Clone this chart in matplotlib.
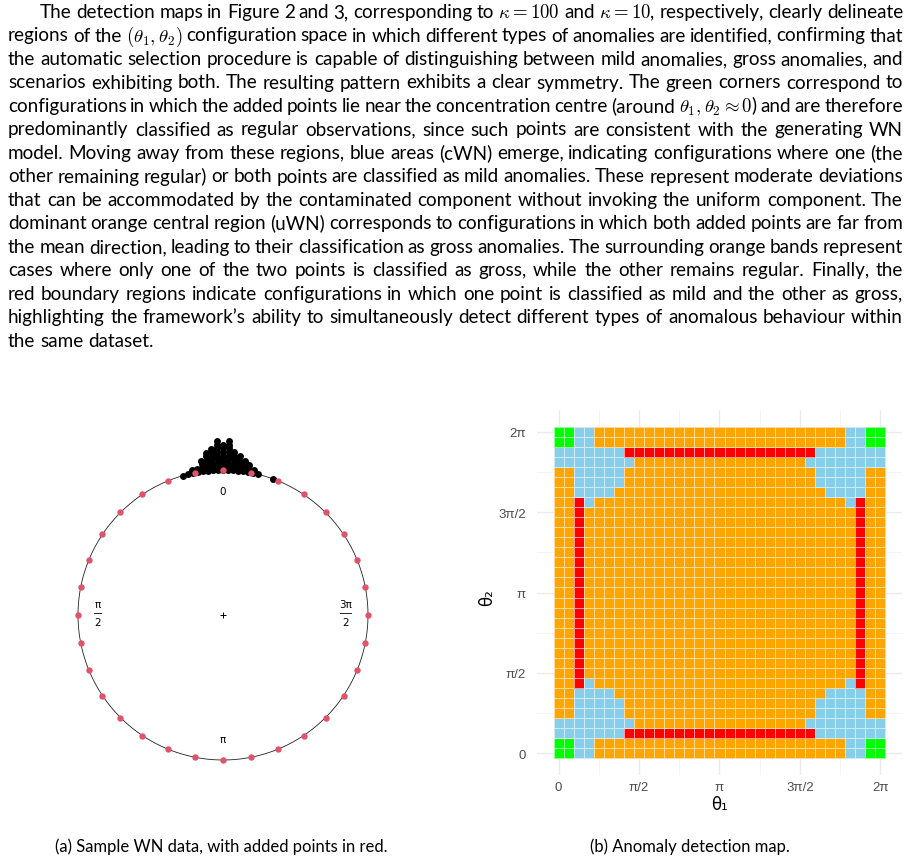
import re
import numpy as np
import matplotlib
matplotlib.use("Agg")
import matplotlib.pyplot as plt
from matplotlib.colors import ListedColormap

plt.rcParams["font.family"] = ["Lato", "DejaVu Sans"]
plt.rcParams["mathtext.fontset"] = "cm"

W, H = 912, 862

paragraph = [
    r"The detection maps in Figure 2 and 3, corresponding to $\kappa = 100$ and $\kappa = 10$, respectively, clearly delineate",
    r"regions of the $(\theta_1, \theta_2)$ configuration space in which different types of anomalies are identified, confirming that",
    r"the automatic selection procedure is capable of distinguishing between mild anomalies, gross anomalies, and",
    r"scenarios exhibiting both.  The resulting pattern exhibits a clear symmetry.  The green corners correspond to",
    r"configurations in which the added points lie near the concentration centre (around $\theta_1, \theta_2 \approx 0$) and are therefore",
    r"predominantly classified as regular observations, since such points are consistent with the generating WN",
    r"model. Moving away from these regions, blue areas (cWN) emerge, indicating configurations where one (the",
    r"other remaining regular) or both points are classified as mild anomalies. These represent moderate deviations",
    r"that can be accommodated by the contaminated component without invoking the uniform component. The",
    r"dominant orange central region (uWN) corresponds to configurations in which both added points are far from",
    r"the mean direction, leading to their classification as gross anomalies. The surrounding orange bands represent",
    r"cases where only one of the two points is classified as gross, while the other remains regular. Finally, the",
    r"red boundary regions indicate configurations in which one point is classified as mild and the other as gross,",
    r"highlighting the framework’s ability to simultaneously detect different types of anomalous behaviour within",
    r"the same dataset.",
]
caption_a = "(a) Sample WN data, with added points in red."
caption_b = "(b) Anomaly detection map."

# (a) stacked WN sample: bin offset (2 degree bins, + = anticlockwise from 0) and count
stack_bin = [-10, -7, -6, -5, -4, -3, -2, -1, 0, 1, 2, 3, 4, 5, 6, 7, 8]
stack_count = [1, 1, 2, 3, 4, 5, 6, 9, 8, 9, 7, 6, 4, 2, 2, 1, 1]
bin_width = 2 * np.pi / 180
stack_sep = 0.025

# added points: theta grid seq(0, 2pi, length = 33) without the repeated 2pi
added_theta = np.linspace(0, 2 * np.pi, 33)[:-1]

# (b) detection map, rows from theta2 = 2pi (top) down to 0, run-length coded
map_rows = [
    [("G", 2), ("B", 2), ("O", 25), ("B", 2), ("G", 2)],
    [("G", 2), ("B", 2), ("O", 25), ("B", 2), ("G", 2)],
    [("B", 7), ("R", 19), ("B", 7)],
    [("B", 8), ("O", 17), ("B", 8)],
    [("O", 2), ("B", 5), ("O", 19), ("B", 5), ("O", 2)],
    [("O", 2), ("B", 5), ("O", 19), ("B", 5), ("O", 2)],
    [("O", 2), ("B", 4), ("O", 21), ("B", 4), ("O", 2)],
    [("O", 2), ("R", 1), ("B", 1), ("O", 25), ("B", 1), ("R", 1), ("O", 2)],
    [("O", 2), ("R", 1), ("O", 27), ("R", 1), ("O", 2)],
    [("O", 2), ("R", 1), ("O", 27), ("R", 1), ("O", 2)],
    [("O", 2), ("R", 1), ("O", 27), ("R", 1), ("O", 2)],
    [("O", 2), ("R", 1), ("O", 27), ("R", 1), ("O", 2)],
    [("O", 2), ("R", 1), ("O", 27), ("R", 1), ("O", 2)],
    [("O", 2), ("R", 1), ("O", 27), ("R", 1), ("O", 2)],
    [("O", 2), ("R", 1), ("O", 27), ("R", 1), ("O", 2)],
    [("O", 2), ("R", 1), ("O", 27), ("R", 1), ("O", 2)],
    [("O", 2), ("R", 1), ("O", 27), ("R", 1), ("O", 2)],
    [("O", 2), ("R", 1), ("O", 27), ("R", 1), ("O", 2)],
    [("O", 2), ("R", 1), ("O", 27), ("R", 1), ("O", 2)],
    [("O", 2), ("R", 1), ("O", 27), ("R", 1), ("O", 2)],
    [("O", 2), ("R", 1), ("O", 27), ("R", 1), ("O", 2)],
    [("O", 2), ("R", 1), ("O", 27), ("R", 1), ("O", 2)],
    [("O", 2), ("R", 1), ("O", 27), ("R", 1), ("O", 2)],
    [("O", 2), ("R", 1), ("O", 27), ("R", 1), ("O", 2)],
    [("O", 2), ("R", 1), ("O", 27), ("R", 1), ("O", 2)],
    [("O", 2), ("R", 1), ("B", 1), ("O", 25), ("B", 1), ("R", 1), ("O", 2)],
    [("O", 2), ("B", 4), ("O", 21), ("B", 4), ("O", 2)],
    [("O", 2), ("B", 5), ("O", 19), ("B", 5), ("O", 2)],
    [("O", 2), ("B", 5), ("O", 19), ("B", 5), ("O", 2)],
    [("B", 8), ("O", 17), ("B", 8)],
    [("B", 7), ("R", 19), ("B", 7)],
    [("G", 2), ("B", 2), ("O", 25), ("B", 2), ("G", 2)],
    [("G", 2), ("B", 2), ("O", 25), ("B", 2), ("G", 2)],
]
map_codes = ["G", "B", "O", "R"]
map_colors = ["#00FF00", "#87CEEB", "#FFA500", "#FF0000"]
grid_theta = np.linspace(0, 2 * np.pi, 33)
tick_pos = [0, np.pi / 2, np.pi, 3 * np.pi / 2, 2 * np.pi]
tick_lab = ["0", "π/2", "π", "3π/2", "2π"]
minor_pos = [np.pi / 4, 3 * np.pi / 4, 5 * np.pi / 4, 7 * np.pi / 4]


fig = plt.figure(figsize=(W / 100, H / 100), dpi=100)
renderer = fig.canvas.get_renderer()


def width(s, size):
    t = fig.text(0, 0, s, fontsize=size)
    w = t.get_window_extent(renderer).width
    t.remove()
    return w


# --- justified paragraph ---
tok = re.compile(r"(?:[^\s$]|\$[^$]*\$)+")
words = [tok.findall(line) for line in paragraph]
left, right, indent = 8, 903, 40
fs = 13.0
fs *= 161 / width("the same dataset.", fs)
sp = width("a a", fs) - width("aa", fs)
ratio = 1.0
for i, ws in enumerate(words[:-1]):
    x0 = indent if i == 0 else left
    nat = sum(width(w, fs) for w in ws) + sp * 0.8 * (len(ws) - 1)
    ratio = min(ratio, (right - x0) / nat)
fs *= ratio
sp = width("a a", fs) - width("aa", fs)

for i, ws in enumerate(words):
    y = 18 + 23.5 * i
    x0 = indent if i == 0 else left
    ww = [width(w, fs) for w in ws]
    gap = (right - x0 - sum(ww)) / (len(ws) - 1) if i < len(words) - 1 else sp
    x = x0
    for w, wd in zip(ws, ww):
        fig.text(x / W, 1 - y / H, w, fontsize=fs, va="baseline", color="black")
        x += wd + gap

# --- captions ---
cfs = 10.0
cfs *= 333 / width(caption_a, cfs)
fig.text(221 / W, 1 - 847 / H, caption_a, fontsize=cfs, ha="center", va="center")
fig.text(690 / W, 1 - 847 / H, caption_b, fontsize=cfs, ha="center", va="center")

# --- (a) circular plot ---
R = 145.0
axc = fig.add_axes([53 / W, 1 - 785 / H, 340 / W, 360 / H])
axc.set_xlim(-170 / R, 170 / R)
axc.set_ylim(-169 / R, 191 / R)
axc.axis("off")
t = np.linspace(0, 2 * np.pi, 500)
axc.plot(np.cos(t), np.sin(t), color="#222222", lw=0.6)
for k, c in zip(stack_bin, stack_count):
    a = k * bin_width
    r = 1 + stack_sep * np.arange(c)
    axc.plot(-r * np.sin(a), r * np.cos(a), "o", color="black", ms=5.0, mew=0, zorder=2)
axc.plot(-np.sin(added_theta), np.cos(added_theta), "o", color="#DF536B",
         ms=4.6, mew=0, zorder=3)
axc.plot(0, 0, "+", color="black", ms=5, mew=0.7)

lab_font = ["DejaVu Sans"]
axc.text(0, 0.855, "0", ha="center", va="center", fontsize=7.5, family=lab_font)
axc.text(0, -0.855, "π", ha="center", va="center", fontsize=7.5, family=lab_font)
for xc, num, half in [(-0.865, "π", 0.022), (0.845, "3π", 0.038)]:
    axc.text(xc, 0.075, num, ha="center", va="center", fontsize=7.5, family=lab_font)
    axc.plot([xc - half, xc + half], [0.016, 0.016], color="black", lw=0.6)
    axc.text(xc, -0.048, "2", ha="center", va="center", fontsize=7.5, family=lab_font)

# --- (b) detection map ---
rows = []
for runs in map_rows:
    row = []
    for code, n in runs:
        row += [map_codes.index(code)] * n
    rows.append(row)
grid = np.array(rows)[::-1]

step = grid_theta[1] - grid_theta[0]
edges = np.append(grid_theta - step / 2, grid_theta[-1] + step / 2)
lo, hi = edges[0], edges[-1]
ex = 0.05 * (hi - lo)

axm = fig.add_axes([537 / W, 1 - 776 / H, 365 / W, 365 / H])
axm.pcolormesh(edges, edges, grid, cmap=ListedColormap(map_colors), vmin=-0.5, vmax=3.5,
               edgecolors=(1, 1, 1, 0.6), linewidth=0.6, zorder=2)
axm.set_xlim(lo - ex, hi + ex)
axm.set_ylim(lo - ex, hi + ex)
axm.set_xticks(tick_pos)
axm.set_xticklabels(tick_lab)
axm.set_yticks(tick_pos)
axm.set_yticklabels(tick_lab)
axm.set_xticks(minor_pos, minor=True)
axm.set_yticks(minor_pos, minor=True)
axm.grid(which="major", color="#EBEBEB", lw=1.0, zorder=0)
axm.grid(which="minor", color="#F2F2F2", lw=0.6, zorder=0)
axm.set_axisbelow(True)
for s in axm.spines.values():
    s.set_visible(False)
axm.tick_params(which="both", length=0, labelcolor="#4D4D4D", labelsize=9.5)
axm.tick_params(axis="y", pad=8)
axm.tick_params(axis="x", pad=4)
for lab in axm.get_xticklabels() + axm.get_yticklabels():
    lab.set_family(["Liberation Sans", "DejaVu Sans"])
axm.text(0.5, -0.079, "θ₁", transform=axm.transAxes, ha="center", va="center",
         fontsize=12, family=["DejaVu Sans"])
axm.text(-0.137, 0.49, "θ₂", transform=axm.transAxes, ha="center", va="center",
         fontsize=12, rotation=90, family=["DejaVu Sans"])

fig.savefig("out.png", dpi=100)
